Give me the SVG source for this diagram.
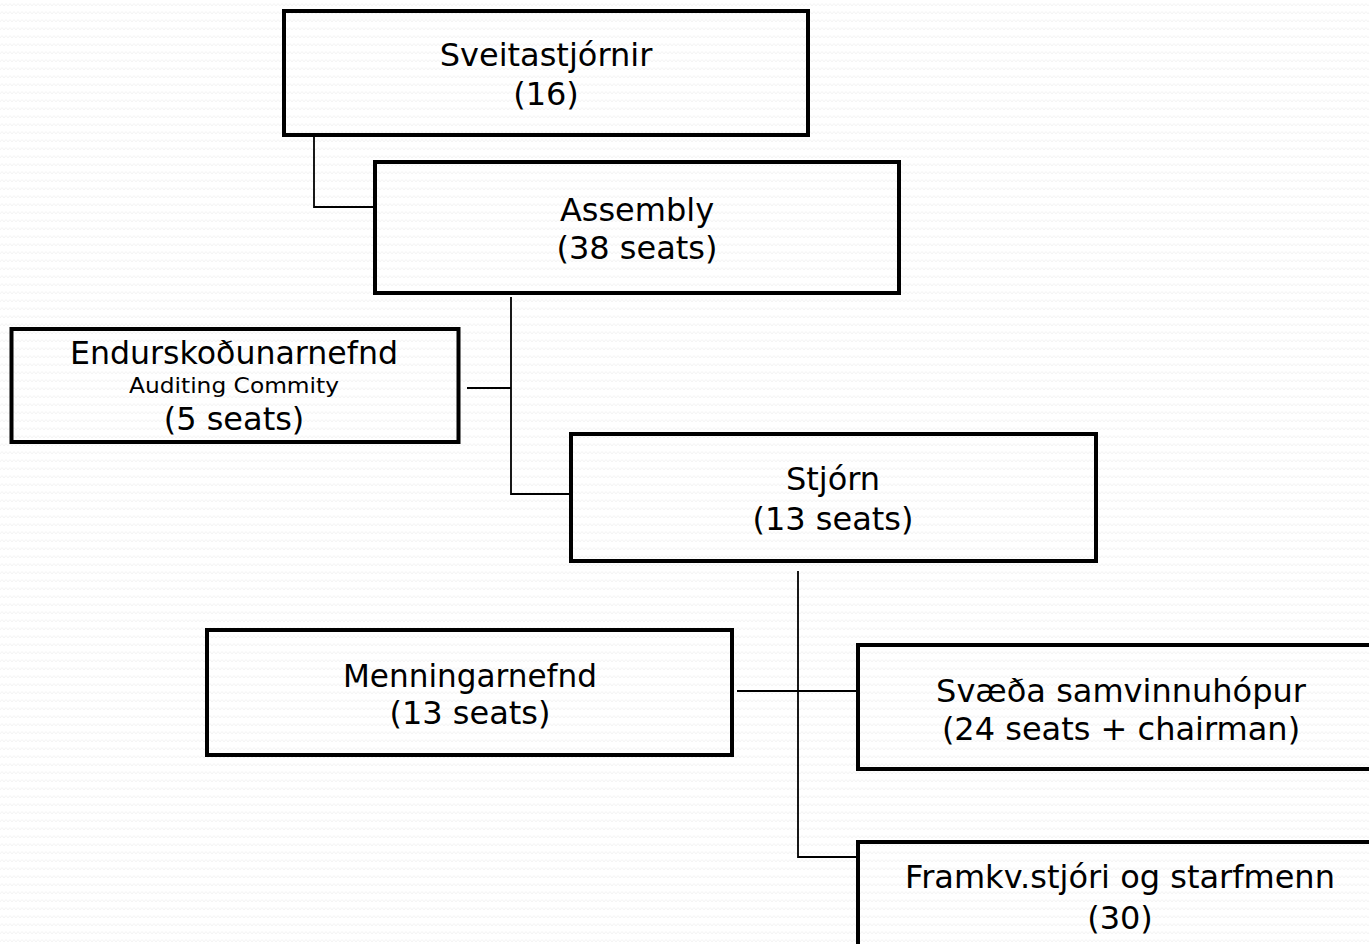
<svg xmlns="http://www.w3.org/2000/svg" width="1369" height="944" viewBox="0 0 1369 944">
<defs>
<pattern id="bg" width="8" height="8" patternUnits="userSpaceOnUse">
<rect width="8" height="8" fill="#ffffff"/>
<polyline points="0,6 2,3.5 4,6 6,3.5 8,6" fill="none" stroke="#f4f4f4" stroke-width="1"/>
</pattern>
<style>
.box{fill:none;stroke:#000;stroke-width:4}
.conn{fill:none;stroke:#000;stroke-width:1.8}
text{font-family:"DejaVu Sans",Verdana,sans-serif;font-size:32px;fill:#000;text-anchor:middle}
.small{font-size:21px}
</style>
</defs>
<rect width="1369" height="944" fill="url(#bg)"/>
<g id="connectors">
<path class="conn" d="M314 133 V207 H375"/>
<path class="conn" d="M511 297 V494 H571"/>
<path class="conn" d="M467 388 H511"/>
<path class="conn" d="M798 571 V857 H858"/>
<path class="conn" d="M737 691 H858"/>
</g>
<g id="sveitastjornir">
<rect class="box" x="284" y="11" width="524" height="124"/>
<text x="546" y="66">Sveitastjórnir</text>
<text x="546" y="105">(16)</text>
</g>
<g id="assembly">
<rect class="box" x="375" y="162" width="524" height="131"/>
<text x="637" y="221">Assembly</text>
<text x="637" y="259">(38 seats)</text>
</g>
<g id="endurskodunarnefnd">
<rect class="box" x="11.5" y="329" width="447" height="113"/>
<text x="234" y="364" textLength="328" lengthAdjust="spacingAndGlyphs">Endurskoðunarnefnd</text>
<text class="small" x="234" y="393" textLength="210" lengthAdjust="spacingAndGlyphs">Auditing Commity</text>
<text x="234" y="430">(5 seats)</text>
</g>
<g id="stjorn">
<rect class="box" x="571" y="434" width="525" height="127"/>
<text x="833" y="490">Stjórn</text>
<text x="833" y="530">(13 seats)</text>
</g>
<g id="menningarnefnd">
<rect class="box" x="207" y="630" width="525" height="125"/>
<text x="470" y="687" textLength="254" lengthAdjust="spacingAndGlyphs">Menningarnefnd</text>
<text x="470" y="724">(13 seats)</text>
</g>
<g id="svaeda">
<rect class="box" x="858" y="645" width="526" height="124"/>
<text x="1121" y="702">Svæða samvinnuhópur</text>
<text x="1121" y="740">(24 seats + chairman)</text>
</g>
<g id="framkv">
<rect class="box" x="858" y="842" width="526" height="130"/>
<text x="1120" y="888">Framkv.stjóri og starfmenn</text>
<text x="1120" y="929">(30)</text>
</g>
</svg>
